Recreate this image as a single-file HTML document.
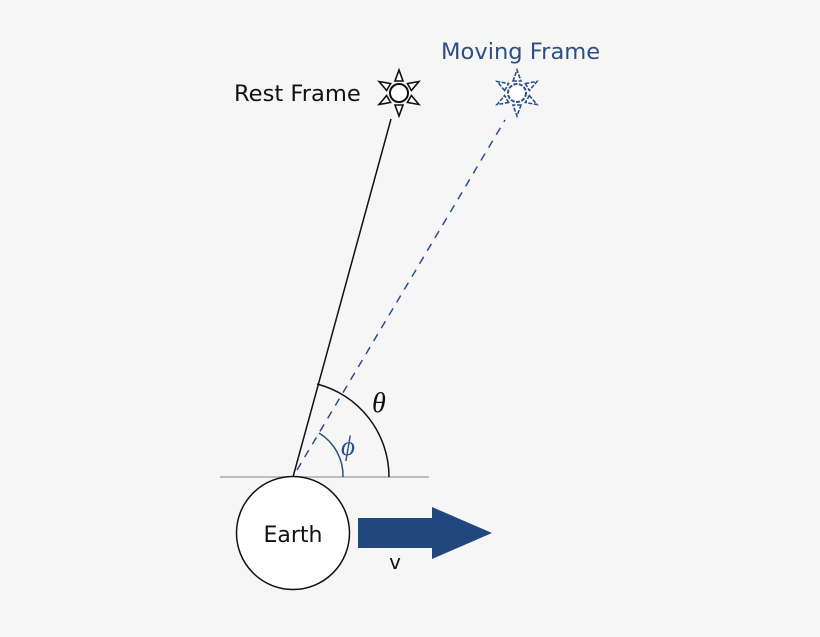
<!DOCTYPE html>
<html><head><style>body{margin:0;background:#f6f6f6}</style></head><body>
<svg width="820" height="632" viewBox="0 0 820 632" xmlns="http://www.w3.org/2000/svg" font-family="'DejaVu Sans','Liberation Sans',sans-serif">
<rect width="820" height="632" fill="#f6f6f6"/>
<defs>
<g id="star">
<circle r="9" fill="#fff" stroke-width="2"/>
<g id="ray"><polygon points="-4,-12 4,-12 0,-23" fill="#fff" stroke-width="1.6"/></g>
<use href="#ray" transform="rotate(60)"/><use href="#ray" transform="rotate(120)"/>
<use href="#ray" transform="rotate(180)"/><use href="#ray" transform="rotate(240)"/><use href="#ray" transform="rotate(300)"/>
</g>
</defs>
<line x1="220" y1="477" x2="429" y2="477" stroke="#aaa" stroke-width="1.5"/>
<line x1="293" y1="477" x2="391" y2="119" stroke="#111" stroke-width="1.5"/>
<line x1="297" y1="470" x2="505" y2="120" stroke="#2d4f86" stroke-width="1.5" stroke-dasharray="8,7"/>
<path d="M317,384 A96,96 0 0 1 389,477" fill="none" stroke="#111" stroke-width="1.5"/>
<path d="M319,433 A50,50 0 0 1 343,477" fill="none" stroke="#2d4f86" stroke-width="1.5"/>
<text x="372" y="412" font-family="'Liberation Serif',serif" font-style="italic" font-size="28" fill="#111">θ</text>
<text x="341" y="455" font-family="'Liberation Serif',serif" font-style="italic" font-size="27" fill="#2d4f86">ϕ</text>
<g transform="translate(399,93)" stroke="#111"><use href="#star"/></g>
<g transform="translate(517,93)" stroke="#2d4f86" stroke-dasharray="4,1.5"><use href="#star"/></g>
<text x="234" y="101" font-size="22.6" fill="#111">Rest Frame</text>
<text x="441" y="59" font-size="22.6" fill="#2d4f86">Moving Frame</text>
<circle cx="293" cy="533" r="56.5" fill="#fff" stroke="#111" stroke-width="1.5"/>
<text x="293" y="542" font-size="22" fill="#111" text-anchor="middle">Earth</text>
<polygon points="358,518 432,518 432,507 492,533 432,559 432,548 358,548" fill="#22477f"/>
<text x="395" y="569" font-size="20" fill="#111" text-anchor="middle">v</text>
</svg>
</body></html>
